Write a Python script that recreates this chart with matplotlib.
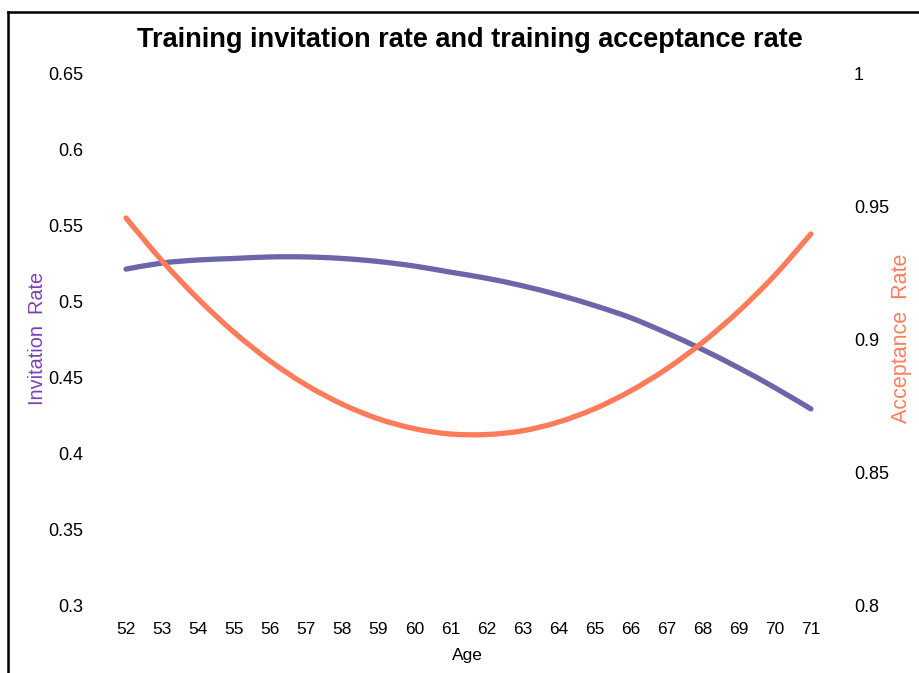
import matplotlib.pyplot as plt
from matplotlib.lines import Line2D
from matplotlib.path import Path
from matplotlib.patches import PathPatch

plt.rcParams["font.family"] = ["Liberation Sans", "DejaVu Sans"]

# data
ages = list(range(52, 72))
invitation_rate = [0.521, 0.525, 0.527, 0.528, 0.529, 0.529, 0.528, 0.526, 0.523, 0.519,
                   0.515, 0.510, 0.504, 0.497, 0.489, 0.479, 0.468, 0.456, 0.443, 0.429]
acceptance_rate = [0.9455, 0.9294, 0.9151, 0.9025, 0.8917, 0.8827, 0.8755, 0.8700, 0.8663, 0.8643,
                   0.8641, 0.8655, 0.8688, 0.8738, 0.8805, 0.8888, 0.8988, 0.9105, 0.9240, 0.9395]
left_ticks = [0.3, 0.35, 0.4, 0.45, 0.5, 0.55, 0.6, 0.65]
left_labels = ["0.3", "0.35", "0.4", "0.45", "0.5", "0.55", "0.6", "0.65"]
right_ticks = [0.8, 0.85, 0.9, 0.95, 1.0]
right_labels = ["0.8", "0.85", "0.9", "0.95", "1"]

purple = "#6B66AA"
orange = "#FF7B5A"


def smooth_line(ax, xs, ys, color):
    """Excel style smoothed line: bezier segments through the data points."""
    verts = [(xs[0], ys[0])]
    codes = [Path.MOVETO]
    n = len(xs)
    for i in range(n - 1):
        x0, y0 = xs[max(i - 1, 0)], ys[max(i - 1, 0)]
        x1, y1 = xs[i], ys[i]
        x2, y2 = xs[i + 1], ys[i + 1]
        x3, y3 = xs[min(i + 2, n - 1)], ys[min(i + 2, n - 1)]
        verts += [(x1 + (x2 - x0) / 6, y1 + (y2 - y0) / 6),
                  (x2 - (x3 - x1) / 6, y2 - (y3 - y1) / 6),
                  (x2, y2)]
        codes += [Path.CURVE4] * 3
    ax.add_patch(PathPatch(Path(verts, codes), facecolor="none", edgecolor=color,
                           lw=3.8, capstyle="round", joinstyle="round", zorder=3))


fig = plt.figure(figsize=(9.19, 6.73), dpi=100)
ax = fig.add_axes([0.1175, 0.101, 0.7845, 0.7905])
ax2 = ax.twinx()

smooth_line(ax, ages, invitation_rate, purple)
smooth_line(ax2, ages, acceptance_rate, orange)

ax.set_xlim(51.5, 71.5)
ax.set_ylim(0.3, 0.65)
ax2.set_ylim(0.8, 1.0)
ax.set_xticks(ages)
ax.set_xticklabels([str(a) for a in ages], fontsize=12.5)
ax.set_yticks(left_ticks)
ax.set_yticklabels(left_labels, fontsize=13)
ax2.set_yticks(right_ticks)
ax2.set_yticklabels(right_labels, fontsize=13)

for a in (ax, ax2):
    for s in a.spines.values():
        s.set_visible(False)
    a.tick_params(length=0)
ax.tick_params(axis="y", pad=18)
ax2.tick_params(axis="y", pad=18)
ax.tick_params(axis="x", pad=12)

fig.text(0.511, 1 - 40 / 673, "Training invitation rate and training acceptance rate",
         ha="center", va="center", fontsize=19.5, fontweight="bold")
fig.text(0.509, 0.026, "Age", ha="center", va="center", fontsize=12.5)
fig.text(0.041, 1 - 338 / 673, "Invitation  Rate", rotation=90, ha="center",
         va="center", fontsize=14.3, color="#7B3FB8")
fig.text(0.981, 1 - 338 / 673, "Acceptance  Rate", rotation=90, ha="center",
         va="center", fontsize=15.5, color="#FF7F5E")

# partial frame around the figure
fig.add_artist(Line2D([8 / 919, 1.0], [1 - 12 / 673, 1 - 12 / 673],
                      transform=fig.transFigure, color="black", lw=1.8))
fig.add_artist(Line2D([8 / 919, 8 / 919], [0.0, 1 - 12 / 673],
                      transform=fig.transFigure, color="black", lw=1.8))

fig.savefig("out.png", dpi=100)
